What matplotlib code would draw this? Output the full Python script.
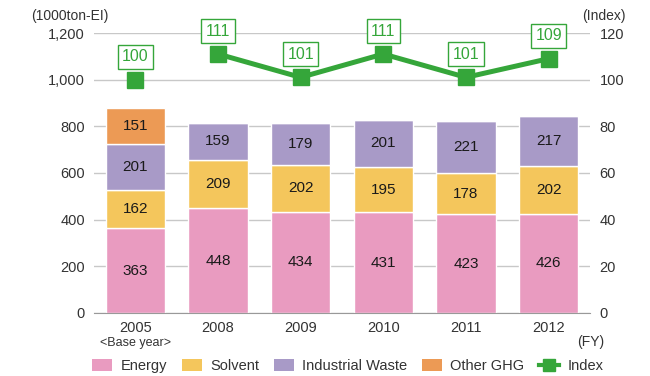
import matplotlib.pyplot as plt
import numpy as np
from matplotlib.lines import Line2D
from matplotlib.patches import Patch

plt.rcParams['font.family'] = ['Liberation Sans', 'DejaVu Sans']

years = ['2005', '2008', '2009', '2010', '2011', '2012']
energy = [363, 448, 434, 431, 423, 426]
solvent = [162, 209, 202, 195, 178, 202]
ind_waste = [201, 159, 179, 201, 221, 217]
other_ghg = [151, 0, 0, 0, 0, 0]
index = [100, 111, 101, 111, 101, 109]

colors = {
    'Energy': '#e99bc0',
    'Solvent': '#f4c65c',
    'Industrial Waste': '#a89ac7',
    'Other GHG': '#ec9a55',
}
green = '#35a63a'
txt = '#333333'

fig = plt.figure(figsize=(6.5, 3.76), dpi=100)
ax = fig.add_axes([0.1446, 0.1676, 0.7631, 0.7446])
x = np.arange(len(years))
w = 0.72

bottom = np.zeros(len(years))
for name, vals in [('Energy', energy), ('Solvent', solvent),
                   ('Industrial Waste', ind_waste), ('Other GHG', other_ghg)]:
    vals = np.array(vals, dtype=float)
    ax.bar(x, vals, w, bottom=bottom, color=colors[name],
           edgecolor='white', linewidth=1.0, zorder=2)
    for xi, b, v in zip(x, bottom, vals):
        if v > 0:
            ax.text(xi, b + v / 2, f'{int(v)}', ha='center', va='center',
                    fontsize=11, color='#1a1a1a', zorder=3)
    bottom += vals

ax.set_xlim(-0.5, len(years) - 0.5)
ax.set_ylim(0, 1200)
ax.set_yticks(range(0, 1201, 200))
ax.set_yticklabels([f'{v:,}' for v in range(0, 1201, 200)])
ax.grid(axis='y', color='#c8c8c8', linewidth=1.0, zorder=0)
ax.set_axisbelow(True)
for s in ['top', 'right', 'left']:
    ax.spines[s].set_visible(False)
ax.spines['bottom'].set_color('#999999')
ax.tick_params(axis='y', length=0, pad=6.5, labelsize=10.5, labelcolor=txt)
ax.tick_params(axis='x', length=0, pad=6, labelsize=10.5, labelcolor=txt)
ax.set_xticks(x)
ax.set_xticklabels(years)
ax.text(0, -0.085, '<Base year>', transform=ax.get_xaxis_transform(),
        ha='center', va='top', fontsize=9, color=txt)

# index on the right axis
ax2 = ax.twinx()
ax2.set_ylim(0, 120)
ax2.set_yticks(range(0, 121, 20))
for s in ax2.spines.values():
    s.set_visible(False)
ax2.tick_params(axis='y', length=0, pad=7, labelsize=10.5, labelcolor=txt)
ax2.plot(x[1:], index[1:], color=green, linewidth=3.6, zorder=3)
ax2.plot(x, index, linestyle='none', marker='s', markersize=11.5,
         color=green, zorder=4)
for xi, v in zip(x, index):
    ax2.annotate(f'{v}', (xi, v), xytext=(0, 16.5), textcoords='offset points',
                 ha='center', va='center', fontsize=11.5, color=green,
                 bbox=dict(boxstyle='square,pad=0.28', fc='white',
                           ec=green, lw=1.0), zorder=5)

fig.text(70 / 650, 1 - 16 / 376, '(1000ton-EI)', ha='center', va='center',
         fontsize=10, color=txt)
fig.text(604 / 650, 1 - 16 / 376, '(Index)', ha='center', va='center',
         fontsize=10, color=txt)
fig.text(591 / 650, 1 - 342 / 376, '(FY)', ha='center', va='center',
         fontsize=10, color=txt)

handles = [Patch(facecolor=colors[k], edgecolor='none') for k in colors]
handles.append(Line2D([0], [0], color=green, lw=3, marker='s', markersize=8))
labels = list(colors) + ['Index']
fig.legend(handles, labels, loc='center', bbox_to_anchor=(348 / 650, 1 - 366 / 376),
           ncol=5, frameon=False, fontsize=10.5, handlelength=1.35,
           handleheight=0.8, columnspacing=1.0, handletextpad=0.6,
           labelcolor=txt)

fig.savefig('out.png', dpi=100)
